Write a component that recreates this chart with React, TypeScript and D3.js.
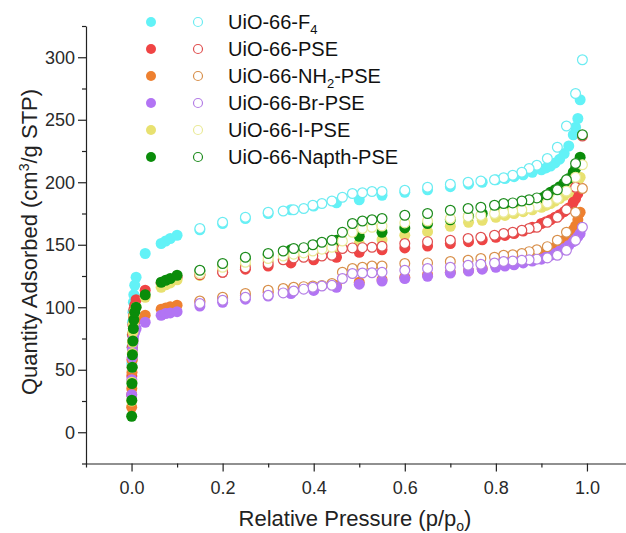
import React, { useRef, useEffect } from "react";
import * as d3 from "d3";

// relative pressures (p/p0) of the adsorption and desorption branches
const adsPressure = [
  0.0003, 0.0006, 0.001, 0.0015, 0.002, 0.003, 0.004, 0.005, 0.007, 0.01,
  0.03, 0.065, 0.075, 0.085, 0.1, 0.15, 0.2, 0.25, 0.3, 0.35, 0.4, 0.45, 0.5,
  0.55, 0.6, 0.65, 0.7, 0.74, 0.77, 0.8, 0.82, 0.84, 0.86, 0.88, 0.9, 0.91,
  0.92, 0.93, 0.94, 0.95, 0.96, 0.97, 0.975, 0.98, 0.985,
];
const desPressure = [
  0.99, 0.975, 0.955, 0.935, 0.913, 0.89, 0.873, 0.857, 0.837, 0.817, 0.797,
  0.767, 0.739, 0.7, 0.65, 0.6, 0.55, 0.528, 0.507, 0.485, 0.463, 0.44, 0.418,
  0.398, 0.378, 0.356, 0.333, 0.3, 0.25, 0.2, 0.15,
];

// quantity adsorbed, cm3/g STP
const f4Ads = [
  40, 55, 68, 78, 88, 96, 104, 110, 117.6, 124, 143, 151, 153, 155, 157.6,
  162, 167, 171, 175, 178, 181, 183.6, 186, 189.6, 192, 194, 196.5, 198.5, 200,
  202, 203, 204.5, 206, 208, 210, 211.5, 213, 215.5, 218.5, 223, 229, 238, 244,
  251, 266,
];
const f4Des = [
  298, 271, 245, 228, 219, 213.6, 211, 208, 205.6, 203.6, 202, 201, 200, 198.4,
  196, 193.6, 192.6, 192.6, 191.6, 191, 188, 185, 183, 181.6, 179, 178, 177,
  176, 172, 168, 163,
];
const pseAds = [
  30, 45, 58, 68, 78, 86, 93, 98, 101.6, 106, 113.6, 119, 120.5, 122, 124, 126,
  128, 130.5, 133, 135.5, 138, 140, 144, 146, 147.5, 149, 151, 152.5, 154, 156,
  157.5, 159, 161, 164, 167, 168.5, 170, 172, 174, 176.5, 179.5, 184, 187, 191,
  196,
];
const pseDes = [
  237, 196, 178, 172, 168, 164, 163, 161.6, 160, 159, 157.6, 156, 155, 153.6,
  152.5, 151, 148.8, 148, 147.7, 147.5, 147, 141.6, 141, 140.8, 140, 139.5,
  138, 135, 131.7, 128, 126,
];
const nh2Ads = [
  20, 35, 48, 58, 66, 73, 79, 84, 88, 90, 93.6, 98.5, 99.5, 100.5, 101.6,
  104.5, 107, 109.5, 112, 113.5, 115, 117.5, 120, 122, 124, 126, 128, 129.5,
  131, 133, 134.5, 136, 138, 140, 142.5, 144, 146, 148, 150.5, 153.6, 157, 162,
  165, 170, 176,
];
const nh2Des = [
  195, 176, 160, 153.6, 148.5, 146, 144.5, 143, 142, 141.6, 140, 139, 137.6,
  136.6, 135.5, 135, 133, 133, 132, 131, 128, 119, 117.5, 117, 116.5, 116, 115,
  113.6, 111, 108, 105,
];
const brAds = [
  30, 42, 52, 60, 66, 71, 75, 78, 80, 83, 88, 93.6, 95, 95.5, 96.5, 101, 104,
  106.5, 109, 111, 113.5, 116, 118.5, 121, 123, 124.8, 127.4, 129, 130.5, 132,
  133, 134, 135.5, 137, 138.5, 140, 141.5, 143, 145, 147, 149.5, 152.5, 154.5,
  156.5, 159,
];
const brDes = [
  164, 153.6, 145.6, 141.6, 139.5, 138.5, 138, 137.6, 137, 136.6, 135.4, 134.4,
  133.6, 132, 131, 129.6, 128, 127.6, 127.4, 127, 123, 117.6, 117, 116, 114.5,
  113, 111.5, 109.6, 108, 105.6, 103,
];
const iAds = [
  25, 40, 52, 63, 72, 80, 87, 93, 97, 100, 108, 116, 118, 119.5, 122, 125.5,
  130, 134, 137.5, 142, 145.5, 148.5, 151, 154, 157.6, 160.5, 164.8, 168, 169.6,
  172, 173.5, 175, 176.5, 178, 180, 181.5, 183, 185, 187, 189.6, 192, 196,
  198.5, 201, 204,
];
const iDes = [
  214, 204, 193, 187, 183.5, 181, 179.5, 178, 177, 176, 175, 173.5, 172.5, 171,
  169, 167.5, 165, 164, 163, 160, 153, 148, 146.5, 145, 143.5, 142.5, 141, 139,
  136, 132, 127,
];
const napthAds = [
  12.8, 25.6, 39, 52, 62, 73, 83, 90, 96, 100, 110, 120, 121.6, 123, 125.6,
  129, 134, 139, 142, 146, 149.6, 153.6, 156.8, 160, 163.5, 167, 170, 172.8,
  175, 177.6, 179, 180.5, 182, 184.5, 187.5, 189.5, 192, 194, 196.5, 199.5,
  203, 208, 211, 215, 220,
];
const napthDes = [
  238, 215, 202, 194, 190, 187.5, 186, 185, 183.5, 183, 181.6, 180, 179, 177.6,
  175, 173.6, 171, 170, 169, 167, 160, 153.6, 152, 150, 147.7, 147, 145, 143,
  140, 135, 129.6,
];

// legend labels: [text, subscript, rest]
const labels = [
  ["UiO-66-F", "4", ""],
  ["UiO-66-PSE", "", ""],
  ["UiO-66-NH", "2", "-PSE"],
  ["UiO-66-Br-PSE", "", ""],
  ["UiO-66-I-PSE", "", ""],
  ["UiO-66-Napth-PSE", "", ""],
];
const fillColors = ["#62f2f7", "#f04444", "#ee8030", "#b274f4", "#e8e170", "#0a8c0a"];
const strokeColors = ["#6cecf2", "#e05050", "#d8904c", "#b47ee6", "#eaea98", "#1e8c1e"];

const xMajor = [0, 0.2, 0.4, 0.6, 0.8, 1.0];
const xMinor = [-0.1, 0.1, 0.3, 0.5, 0.7, 0.9, 1.1];
const yMajor = [0, 50, 100, 150, 200, 250, 300];
const yMinor = [-25, 25, 75, 125, 175, 225, 275, 325];

const series = [
  [f4Ads, f4Des],
  [pseAds, pseDes],
  [nh2Ads, nh2Des],
  [brAds, brDes],
  [iAds, iDes],
  [napthAds, napthDes],
].map(([ads, des], i) => ({
  ads: ads.map((v, j) => ({ p: adsPressure[j], q: v })),
  des: des.map((v, j) => ({ p: desPressure[j], q: v })),
  fill: fillColors[i],
  stroke: strokeColors[i],
  label: labels[i],
}));

const width = 626,
  height = 533;
const font = "Arial, 'Liberation Sans', sans-serif";

const App = () => {
  const svgRef = useRef<SVGSVGElement>(null);

  useEffect(() => {
    const svg = d3.select(svgRef.current);
    svg.selectAll("*").remove();

    const x = d3.scaleLinear().domain([-0.1, 1.1]).range([86, 632.5]);
    const y = d3.scaleLinear().domain([-25, 325]).range([463.5, 26]);
    const r = 5.5;

    // X axis, major + minor ticks
    const gx = svg
      .append("g")
      .attr("transform", `translate(0,${y(-25)})`)
      .call(
        d3
          .axisBottom(x)
          .tickValues(xMajor)
          .tickFormat(d3.format(".1f"))
          .tickSize(8)
          .tickSizeOuter(0)
          .tickPadding(10)
      );
    svg
      .append("g")
      .attr("transform", `translate(0,${y(-25)})`)
      .call(d3.axisBottom(x).tickValues(xMinor).tickSize(4).tickFormat(() => ""))
      .select(".domain")
      .remove();

    // Y axis
    const gy = svg
      .append("g")
      .attr("transform", `translate(${x(-0.1)},0)`)
      .call(d3.axisLeft(y).tickValues(yMajor).tickSize(8).tickSizeOuter(0).tickPadding(3));
    svg
      .append("g")
      .attr("transform", `translate(${x(-0.1)},0)`)
      .call(d3.axisLeft(y).tickValues(yMinor).tickSize(4).tickFormat(() => ""))
      .select(".domain")
      .remove();

    [gx, gy].forEach((g) =>
      g.attr("font-size", 18).attr("font-family", font).selectAll("text").attr("fill", "#2a2a2a")
    );
    svg.selectAll(".domain, .tick line").attr("stroke", "#222").attr("stroke-width", 1.2);

    // X label
    const xt = svg
      .append("text")
      .attr("x", 355)
      .attr("y", 526)
      .attr("text-anchor", "middle")
      .attr("font-family", font)
      .attr("font-size", 22)
      .attr("fill", "#222");
    xt.append("tspan").text("Relative Pressure (p/p");
    xt.append("tspan").attr("font-size", 14).attr("dy", 5).text("o");
    xt.append("tspan").attr("dy", -5).text(")");

    // Y label
    const yt = svg
      .append("text")
      .attr("transform", "rotate(-90)")
      .attr("x", -242)
      .attr("y", 37)
      .attr("text-anchor", "middle")
      .attr("font-family", font)
      .attr("font-size", 22)
      .attr("fill", "#222");
    yt.append("tspan").text("Quantity Adsorbed (cm");
    yt.append("tspan").attr("font-size", 14).attr("dy", -8).text("3");
    yt.append("tspan").attr("dy", 8).text("/g STP)");

    // adsorption points (filled), then desorption points (open)
    series.forEach((s) => {
      svg
        .append("g")
        .selectAll("circle")
        .data(s.ads)
        .enter()
        .append("circle")
        .attr("cx", (d) => x(d.p))
        .attr("cy", (d) => y(d.q))
        .attr("r", r)
        .attr("fill", s.fill);
    });
    series.forEach((s) => {
      svg
        .append("g")
        .selectAll("circle")
        .data(s.des)
        .enter()
        .append("circle")
        .attr("cx", (d) => x(d.p))
        .attr("cy", (d) => y(d.q))
        .attr("r", r - 0.6)
        .attr("fill", "#fff")
        .attr("stroke", s.stroke)
        .attr("stroke-width", 1.2);
    });

    // Legend
    const legend = svg.append("g");
    series.forEach((s, i) => {
      const ly = 22 + i * 27;
      legend.append("circle").attr("cx", 151).attr("cy", ly).attr("r", 5).attr("fill", s.fill);
      legend
        .append("circle")
        .attr("cx", 198)
        .attr("cy", ly)
        .attr("r", 4.5)
        .attr("fill", "#fff")
        .attr("stroke", s.stroke)
        .attr("stroke-width", 1.2);
      const t = legend
        .append("text")
        .attr("x", 228)
        .attr("y", ly + 7)
        .attr("font-family", font)
        .attr("font-size", 20)
        .attr("fill", "#111");
      t.append("tspan").text(s.label[0]);
      if (s.label[1]) {
        t.append("tspan").attr("font-size", 13).attr("dy", 5).text(s.label[1]);
        t.append("tspan").attr("dy", -5).text(s.label[2]);
      }
    });
  }, []);

  return (
    <div style={{ position: "absolute", left: 0, top: 0 }}>
      <svg ref={svgRef} width={width} height={height} style={{ display: "block", background: "#fff" }} />
    </div>
  );
};

export default App;
